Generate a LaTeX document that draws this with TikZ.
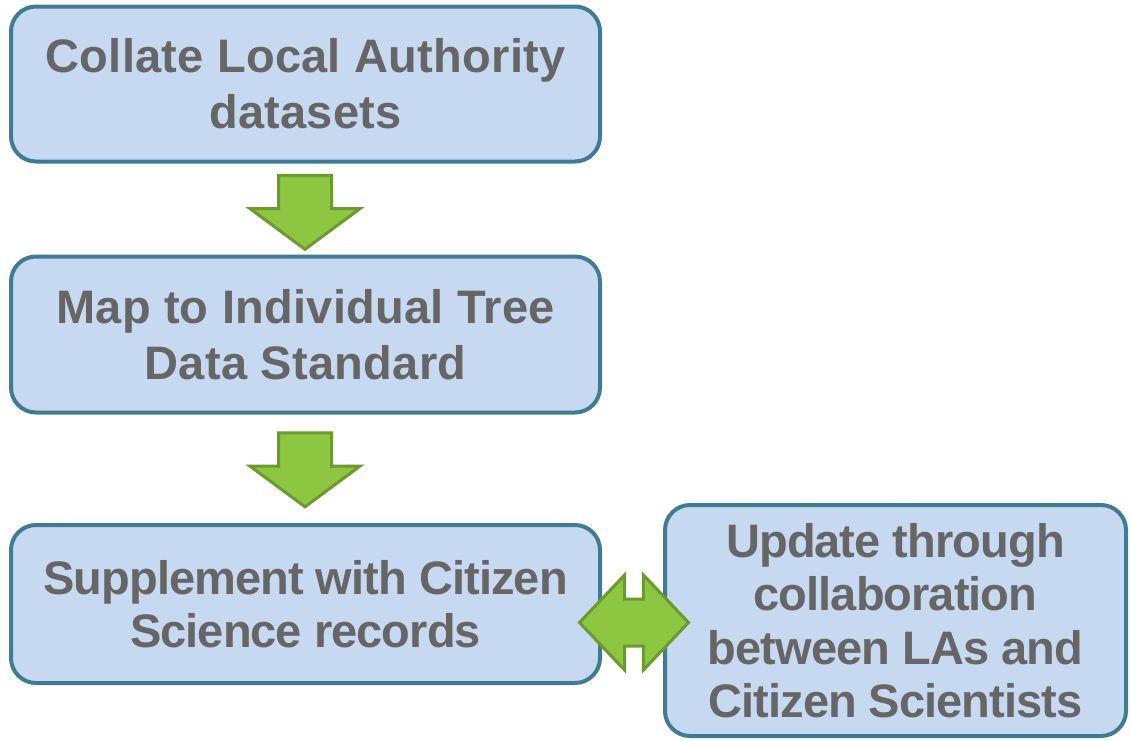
\documentclass[tikz,border=0pt]{standalone}
\usepackage{fontspec}
\setmainfont{Liberation Sans}
\usepackage{tikz}
\usetikzlibrary{shapes.arrows}
\definecolor{boxfill}{HTML}{C6D9F1}
\definecolor{boxline}{HTML}{3F7B93}
\definecolor{boxtext}{HTML}{666666}
\definecolor{arrfill}{HTML}{8DC641}
\definecolor{arrline}{HTML}{6B9A2F}
\begin{document}
\begin{tikzpicture}[x=1pt,y=-1pt]
        \tikzstyle{every node} = [font=\fontsize{47}{56}\selectfont\bfseries, text=boxtext, align=center]
        \tikzstyle{stage} = [rectangle, rounded corners=25pt, draw=boxline, fill=boxfill, line width=4pt]
        \tikzstyle{wide} = [font=\fontsize{47}{56}\selectfont\bfseries\addfontfeatures{LetterSpace=0.6}]
        \tikzstyle{tight} = [font=\fontsize{47}{53.5}\selectfont\bfseries\addfontfeatures{LetterSpace=-2.0}]
        \tikzstyle{down} = [single arrow, shape border rotate=270, draw=arrline, fill=arrfill, line width=3pt,
            inner xsep=25pt, inner ysep=0pt, single arrow head extend=28.5pt, single arrow tip angle=107,
            minimum height=74pt]
        \tikzstyle{both} = [double arrow, draw=arrline, fill=arrfill, line width=3pt,
            inner xsep=0pt, inner ysep=22pt, double arrow head extend=24pt, double arrow tip angle=93,
            minimum height=109pt]
        \useasboundingbox (0,0) rectangle (1130,740);
        \node[stage, wide, minimum width=589pt, minimum height=155pt] (c) at (305.5,84) {Collate Local Authority\\datasets};
        \node[stage, wide, minimum width=589pt, minimum height=156pt] (m) at (305.5,334.5) {Map to Individual Tree\\Data Standard};
        \node[stage, tight, minimum width=589pt, minimum height=158pt] (s) at (305.5,604) {Supplement with Citizen\\Science records};
        \node[stage, tight, minimum width=461pt, minimum height=231pt] (u) at (895.5,620.5) {Update through\\collaboration\\between LAs and\\Citizen Scientists};
        \node[down] (cm) at (305,202.5) {};
        \node[down] (ms) at (305,460) {};
        \node[both] (su) at (634,622.5) {};
    \end{tikzpicture}
\end{document}
